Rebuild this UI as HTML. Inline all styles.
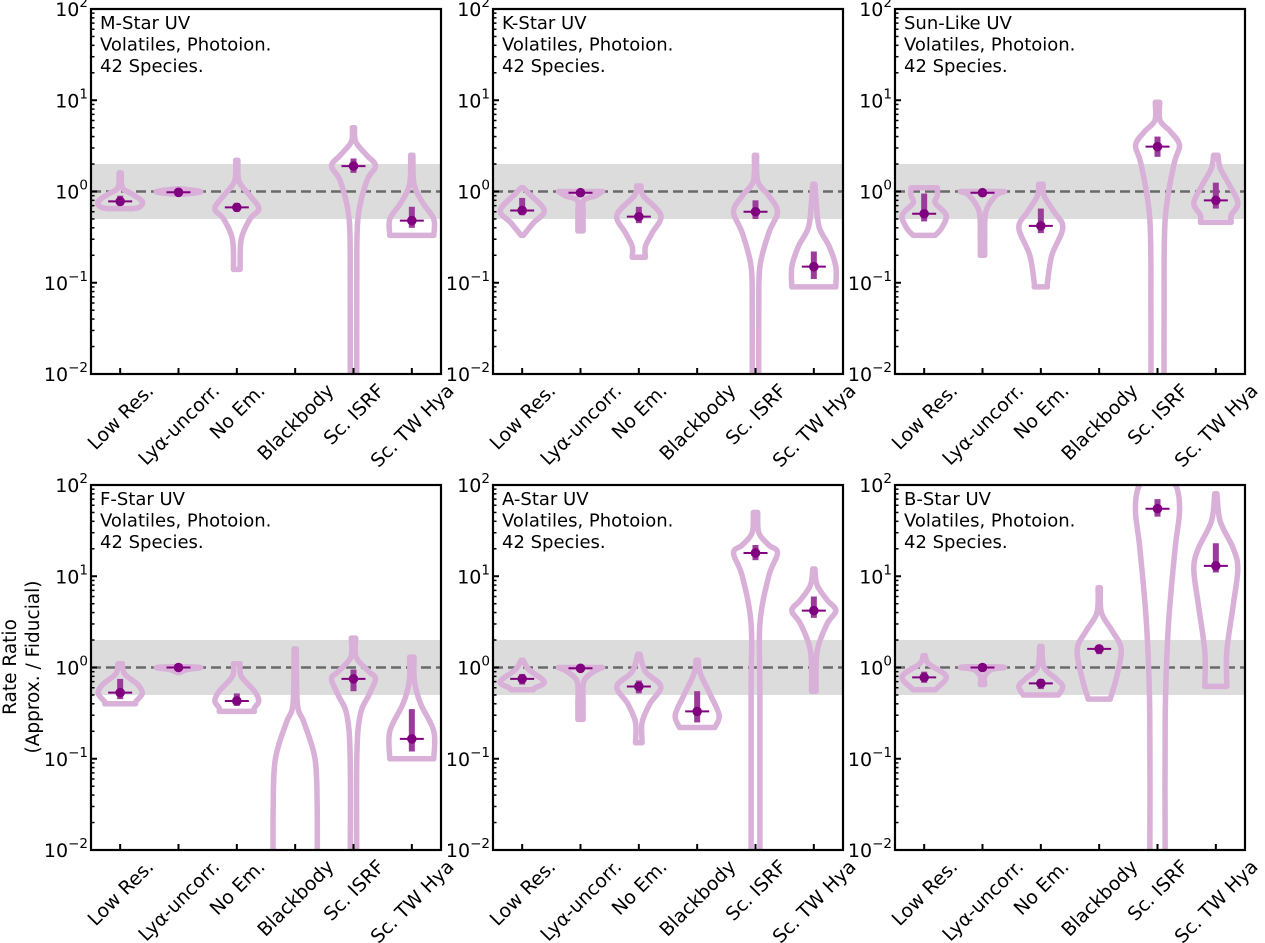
<!DOCTYPE html>
<html><head><meta charset="utf-8"><style>
html,body{margin:0;padding:0;background:#fff;}
svg{display:block;font-family:"DejaVu Sans","Liberation Sans",sans-serif;}
</style></head><body>
<svg id="fig" width="1265" height="943" viewBox="0 0 1265 943" xmlns="http://www.w3.org/2000/svg">
<text transform="translate(26,667) rotate(-90)" text-anchor="middle" font-size="18.5"><tspan x="0" dy="-10">Rate Ratio</tspan><tspan x="0" dy="23">(Approx. / Fiducial)</tspan></text>
</svg>
<script>
const categories = ["Low Res.", "Ly\u03b1-uncorr.", "No Em.", "Blackbody", "Sc. ISRF", "Sc. TW Hya"];
const panelTitles = ["M-Star UV", "K-Star UV", "Sun-Like UV", "F-Star UV", "A-Star UV", "B-Star UV"];
const yTickExps = [2, 1, 0, -1, -2];
const bandRange = [0.5, 2];
const refValue = 1;
const medians = [
  [0.78, 0.98, 0.67, null, 1.9, 0.48],
  [0.62, 0.97, 0.53, null, 0.6, 0.15],
  [0.57, 0.97, 0.42, null, 3.1, 0.8],
  [0.53, 1.0, 0.43, null, 0.75, 0.165],
  [0.75, 0.98, 0.62, 0.33, 18, 4.2],
  [0.78, 1.0, 0.67, 1.6, 55, 13]
];
const iqrLow = [
  [0.7, 0.96, 0.6, null, 1.6, 0.4],
  [0.55, 0.95, 0.45, null, 0.5, 0.11],
  [0.47, 0.95, 0.35, null, 2.4, 0.65],
  [0.45, 0.97, 0.38, null, 0.55, 0.12],
  [0.65, 0.96, 0.52, 0.25, 15, 3.5],
  [0.68, 0.97, 0.58, 1.4, 45, 11]
];
const iqrHigh = [
  [0.9, 1.01, 0.75, null, 2.3, 0.68],
  [0.85, 1.0, 0.68, null, 0.8, 0.22],
  [0.95, 1.0, 0.65, null, 4.0, 1.25],
  [0.75, 1.01, 0.52, null, 0.95, 0.35],
  [0.85, 1.0, 0.72, 0.55, 22, 6],
  [0.9, 1.01, 0.75, 1.75, 70, 23]
];
const violinShapes = [
  [
    [[1.6,0.05],[1.1,0.1],[0.95,0.5],[0.78,1],[0.68,0.9],[0.65,0.6]],
    [[1.07,0.1],[1.0,1],[0.95,0.5],[0.93,0.05]],
    [[2.2,0.05],[1.3,0.1],[0.9,0.6],[0.65,1],[0.5,0.6],[0.3,0.2],[0.14,0.15]],
    null,
    [[5,0.05],[3.5,0.1],[2.5,0.6],[1.9,1],[1.3,0.6],[0.5,0.2],[0.1,0.15],[0.005,0.15]],
    [[2.5,0.05],[1.2,0.1],[0.75,0.5],[0.5,1],[0.33,1]]
  ],
  [
    [[1.1,0.05],[0.95,0.3],[0.62,1],[0.45,0.5],[0.33,0.05]],
    [[1.0,1],[0.9,0.7],[0.8,0.15],[0.6,0.12],[0.37,0.12]],
    [[1.15,0.1],[0.9,0.2],[0.55,1],[0.35,0.6],[0.25,0.3],[0.19,0.3]],
    null,
    [[2.5,0.05],[1.3,0.1],[0.9,0.6],[0.6,1],[0.35,0.6],[0.15,0.2],[0.05,0.15],[0.005,0.15]],
    [[1.2,0.05],[0.7,0.12],[0.4,0.25],[0.25,0.7],[0.15,1],[0.09,1]]
  ],
  [
    [[1.1,0.6],[0.9,0.6],[0.75,0.5],[0.55,1],[0.4,0.8],[0.33,0.5]],
    [[1.0,1],[0.9,0.6],[0.6,0.15],[0.3,0.1],[0.2,0.1]],
    [[1.2,0.1],[0.9,0.15],[0.6,0.6],[0.4,1],[0.2,0.5],[0.1,0.3],[0.09,0.3]],
    null,
    [[9.5,0.1],[6,0.12],[4.5,0.6],[3.2,1],[2,0.75],[0.5,0.35],[0.05,0.3],[0.005,0.3]],
    [[2.5,0.1],[1.8,0.2],[1.2,0.6],[0.75,1],[0.55,0.7],[0.46,0.7]]
  ],
  [
    [[1.1,0.1],[0.85,0.2],[0.65,0.8],[0.52,1],[0.42,0.7],[0.4,0.7]],
    [[1.02,0.1],[1.0,1],[0.95,0.4],[0.88,0.05]],
    [[1.1,0.15],[0.8,0.2],[0.55,0.8],[0.43,1],[0.36,0.8],[0.33,0.8]],
    [[1.6,0.05],[0.4,0.1],[0.25,0.4],[0.1,0.9],[0.03,1],[0.005,1]],
    [[2.1,0.1],[1.3,0.12],[0.9,0.7],[0.75,1],[0.5,0.7],[0.3,0.3],[0.1,0.15],[0.005,0.15]],
    [[1.3,0.1],[0.7,0.12],[0.4,0.4],[0.2,1],[0.1,1]]
  ],
  [
    [[1.2,0.05],[0.95,0.3],[0.7,1],[0.6,0.6],[0.57,0.5]],
    [[1.0,1],[0.9,0.6],[0.7,0.15],[0.4,0.12],[0.27,0.12]],
    [[1.4,0.05],[0.9,0.3],[0.62,1],[0.4,0.5],[0.25,0.15],[0.15,0.15]],
    [[1.2,0.05],[0.85,0.15],[0.5,0.6],[0.3,1],[0.22,0.8]],
    [[50,0.1],[30,0.15],[22,0.6],[18,1],[10,0.6],[3,0.2],[0.5,0.2],[0.005,0.2]],
    [[12,0.05],[8,0.15],[5.5,0.6],[4.2,1],[3,0.6],[1.5,0.15],[0.55,0.1]]
  ],
  [
    [[1.35,0.05],[1.1,0.2],[0.8,1],[0.6,0.6],[0.57,0.5]],
    [[1.02,0.5],[1.0,1],[0.95,0.4],[0.8,0.1],[0.65,0.1]],
    [[1.7,0.05],[1.0,0.15],[0.75,0.7],[0.62,1],[0.5,0.8]],
    [[7.5,0.05],[4,0.1],[2.5,0.6],[1.6,1],[0.8,0.8],[0.45,0.5]],
    [[130,0.5],[90,0.9],[50,1],[20,0.8],[3,0.5],[0.3,0.35],[0.005,0.35]],
    [[80,0.05],[40,0.2],[20,0.8],[12,1],[5,0.8],[1.5,0.5],[0.62,0.5]]
  ]
];

const NS = "http://www.w3.org/2000/svg";
const svg = document.getElementById("fig");
const colLeft = [91, 493, 895], rowTop = [9, 485], PW = 350, PH = 365;
const yMinExp = -2, yMaxExp = 2, halfMax = 22;
function mk(tag, attrs, parent) {
  const e = document.createElementNS(NS, tag);
  for (const k in attrs) e.setAttribute(k, attrs[k]);
  (parent || svg).appendChild(e);
  return e;
}
function smooth(pts) {
  let d = "";
  for (let i = 0; i < pts.length - 1; i++) {
    const p0 = pts[Math.max(0, i - 1)], p1 = pts[i], p2 = pts[i + 1], p3 = pts[Math.min(pts.length - 1, i + 2)];
    const c1 = [p1[0] + (p2[0] - p0[0]) / 6, p1[1] + (p2[1] - p0[1]) / 6];
    const c2 = [p2[0] - (p3[0] - p1[0]) / 6, p2[1] - (p3[1] - p1[1]) / 6];
    d += ` C${c1[0].toFixed(1)},${c1[1].toFixed(1)} ${c2[0].toFixed(1)},${c2[1].toFixed(1)} ${p2[0].toFixed(1)},${p2[1].toFixed(1)}`;
  }
  return d;
}

for (let p = 0; p < 6; p++) {
  const L = colLeft[p % 3], T = rowTop[Math.floor(p / 3)];
  const ys = v => T + (yMaxExp - Math.log10(v)) / (yMaxExp - yMinExp) * PH;
  const xs = i => L + (i + 0.5) / categories.length * PW;
  const g = mk("g", {});
  
  
  const clipId = "clip" + p;
  const cp = mk("clipPath", { id: clipId }, g);
  mk("rect", { x: L, y: T, width: PW, height: PH }, cp);
  const band = mk("rect", { x: L, y: ys(bandRange[1]), width: PW, height: ys(bandRange[0]) - ys(bandRange[1]), fill: "#dcdcdc" }, g);
  
  
  const ref = mk("line", { x1: L, x2: L + PW, y1: ys(refValue), y2: ys(refValue), stroke: "#6a6a6a", "stroke-width": 2.5, "stroke-dasharray": "10,5" }, g);
  
  
  const vg = mk("g", { "clip-path": `url(#${clipId})` }, g);
  for (let c = 0; c < categories.length; c++) {
    const shape = violinShapes[p][c];
    if (shape) {
      const cx = xs(c);
      const right = shape.map(s => [cx + s[1] * halfMax, ys(s[0])]);
      const left = shape.map(s => [cx - s[1] * halfMax, ys(s[0])]).reverse();
      let d = `M${left[left.length - 1][0].toFixed(1)},${right[0][1].toFixed(1)} L${right[0][0].toFixed(1)},${right[0][1].toFixed(1)}` + smooth(right) +
        ` L${left[0][0].toFixed(1)},${left[0][1].toFixed(1)}` + smooth(left) + " Z";
      const vp = mk("path", { d: d, fill: "none", stroke: "#d8b0d8", "stroke-width": 5.5, "stroke-linejoin": "round" }, vg);
      
      
    }
    const m = medians[p][c];
    if (m !== null) {
      const cx = xs(c);
      const bar = mk("line", { x1: cx, x2: cx, y1: ys(iqrLow[p][c]), y2: ys(iqrHigh[p][c]), stroke: "#9a3c9a", "stroke-width": 6 }, vg);
      
      
      const ml = mk("line", { x1: cx - 12, x2: cx + 12, y1: ys(m), y2: ys(m), stroke: "#800080", "stroke-width": 2 }, vg);
      
      
      const dot = mk("circle", { cx: cx, cy: ys(m), r: 4.8, fill: "#800080" }, vg);
      
      
    }
  }
  for (let e = yMinExp; e < yMaxExp; e++) {
    for (let k = 2; k <= 9; k++) {
      const y = ys(k * Math.pow(10, e));
      mk("line", { x1: L, x2: L + 3.5, y1: y, y2: y, stroke: "#000", "stroke-width": 1.5 }, g);
    }
  }
  yTickExps.forEach(e => {
    const y = ys(Math.pow(10, e));
    mk("line", { x1: L, x2: L + 6, y1: y, y2: y, stroke: "#000", "stroke-width": 2 }, g);
    const t = mk("text", { x: L - 3, y: y + 7, "text-anchor": "end", "font-size": 19 }, g);
    
    
    t.textContent = "10";
    const s = mk("tspan", { dy: -9, "font-size": 13.5 }, t);
    s.textContent = e < 0 ? "\u2212" + (-e) : String(e);
  });
  categories.forEach((cat, c) => {
    const x = xs(c);
    mk("line", { x1: x, x2: x, y1: T + PH, y2: T + PH - 6, stroke: "#000", "stroke-width": 2 }, g);
    const t = mk("text", { "font-size": 19, "text-anchor": "middle" }, g);
    
    
    t.textContent = cat;
    const len = t.getComputedTextLength();
    const h = 14;
    const bh = (len + h) * 0.7071;
    const cy = T + PH + 8 + bh / 2;
    t.setAttribute("transform", `translate(${x},${cy}) rotate(-45) translate(0,${h / 2})`);
  });
  const sp = mk("rect", { x: L, y: T, width: PW, height: PH, fill: "none", stroke: "#000", "stroke-width": 2.2 }, g);
  
  
  const tt = mk("text", { x: L + 9, y: T + 20, "font-size": 18 }, g);
  
  
  [panelTitles[p], "Volatiles, Photoion.", "42 Species."].forEach((line, i) => {
    const ts = mk("tspan", { x: L + 9, dy: i === 0 ? 0 : 21.5 }, tt);
    ts.textContent = line;
  });
}
</script>
</body></html>
